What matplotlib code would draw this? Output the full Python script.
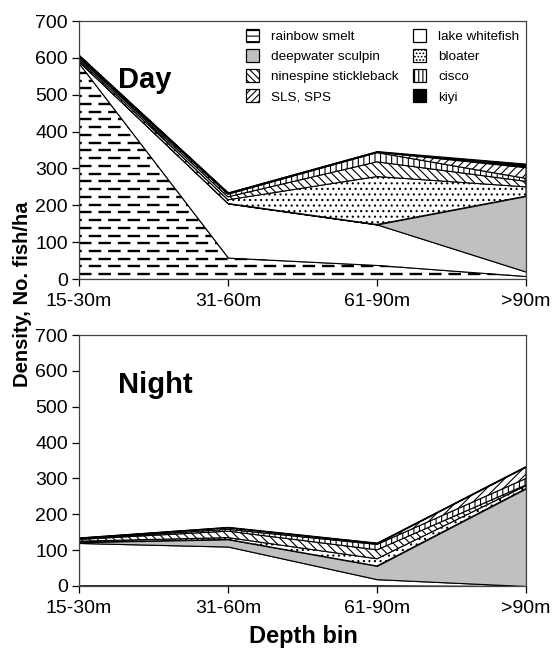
import numpy as np
import matplotlib
matplotlib.use("Agg")
import matplotlib.pyplot as plt
from matplotlib.patches import Patch

plt.rcParams['font.family'] = ['Liberation Sans', 'DejaVu Sans']
plt.rcParams['hatch.linewidth'] = 0.8
plt.rcParams['lines.scale_dashes'] = False

depth_bins = ['15-30m', '31-60m', '61-90m', '>90m']
species = ['rainbow smelt', 'lake whitefish', 'deepwater sculpin', 'bloater',
           'ninespine stickleback', 'cisco', 'SLS, SPS', 'kiyi']

# densities (No. fish/ha), stacked bottom to top in the order of 'species'
day_smelt = [585, 58, 38, 8]
day_whitefish = [5, 147, 110, 12]
day_sculpin = [0, 0, 0, 205]
day_bloater = [5, 10, 130, 25]
day_ninespine = [5, 8, 40, 15]
day_cisco = [3, 7, 25, 8]
day_sls = [3, 3, 2, 30]
day_kiyi = [2, 2, 2, 10]

night_smelt = [2, 2, 2, 0]
night_whitefish = [118, 108, 17, 0]
night_sculpin = [2, 20, 37, 272]
night_bloater = [3, 5, 20, 8]
night_ninespine = [5, 18, 25, 2]
night_cisco = [2, 5, 15, 18]
night_sls = [2, 5, 3, 33]
night_kiyi = [1, 2, 2, 1]

day = [day_smelt, day_whitefish, day_sculpin, day_bloater,
       day_ninespine, day_cisco, day_sls, day_kiyi]
night = [night_smelt, night_whitefish, night_sculpin, night_bloater,
         night_ninespine, night_cisco, night_sls, night_kiyi]

# fill style per species: (facecolor, hatch)
styles = [('white', None), ('white', None), ('#c0c0c0', None), ('white', '...'),
          ('white', '\\\\\\\\'), ('white', '|||'), ('white', '////'), ('black', None)]


def smelt_dashes(ax, poly):
    ''' Dashed horizontal pattern used for rainbow smelt. '''
    rows = np.arange(13, 700, 21)
    for k, y in enumerate(rows):
        off = 0 if k % 2 == 0 else 7
        ln, = ax.plot([0, 3], [y, y], color='black', lw=1.7,
                      linestyle=(off, (9, 5)), dash_capstyle='butt', zorder=2.5)
        ln.set_clip_path(poly.get_paths()[0], poly.get_transform())


def stacked(ax, layers):
    x = np.arange(len(depth_bins))
    base = np.zeros(len(x))
    for i, vals in enumerate(layers):
        top = base + np.array(vals, dtype=float)
        fc, h = styles[i]
        poly = ax.fill_between(x, base, top, facecolor=fc, edgecolor='black',
                               hatch=h, linewidth=0.8, zorder=2)
        if i == 0:
            smelt_dashes(ax, poly)
        base = top


def style_axes(ax, title, ty):
    ax.set_xlim(0, 3)
    ax.set_ylim(0, 700)
    ax.set_yticks(range(0, 701, 100))
    ax.set_xticks(range(len(depth_bins)))
    ax.set_xticklabels(depth_bins)
    ax.tick_params(direction='out', length=5, width=0.9, labelsize=14, colors='black')
    ax.tick_params(axis='x', pad=5)
    ax.tick_params(axis='y', pad=3)
    for s in ax.spines.values():
        s.set_color('#444444')
        s.set_linewidth(0.9)
    for lbl in ax.get_xticklabels():
        lbl.set_clip_on(False)
    ax.text(0.087, ty, title, transform=ax.transAxes, fontsize=21,
            fontweight='bold', ha='left', va='center')


fig = plt.figure(figsize=(5.54, 6.52), dpi=100)
ax1 = fig.add_axes([79 / 554, 1 - 279 / 652, 447 / 554, 258 / 652])
ax2 = fig.add_axes([79 / 554, 1 - 586 / 652, 447 / 554, 251 / 652])

stacked(ax1, day)
stacked(ax2, night)
style_axes(ax1, 'Day', 0.771)
style_axes(ax2, 'Night', 0.80)

handles = []
legend_hatch = ['---', None, None, '.....', '\\\\\\\\\\', '||||', '/////', None]
for i, name in enumerate(species):
    fc = styles[i][0]
    handles.append(Patch(facecolor=fc, edgecolor='black', hatch=legend_hatch[i],
                         lw=0.9, label=name))
order = [0, 2, 4, 6, 1, 3, 5, 7]
ax1.legend([handles[j] for j in order], [species[j] for j in order], ncol=2,
           loc='upper left', bbox_to_anchor=(0.352, 1.005), frameon=False,
           fontsize=9.7, handlelength=1.0, handleheight=1.1, handletextpad=0.85,
           columnspacing=1.1, labelspacing=0.45, borderaxespad=0.3)

fig.text(0.04, 0.548, 'Density, No. fish/ha', rotation=90, fontsize=14.5,
         fontweight='bold', ha='center', va='center')
fig.text(303 / 554, 1 - 636 / 652, 'Depth bin', fontsize=17,
         fontweight='bold', ha='center', va='center')

fig.savefig('out.png', dpi=100)
